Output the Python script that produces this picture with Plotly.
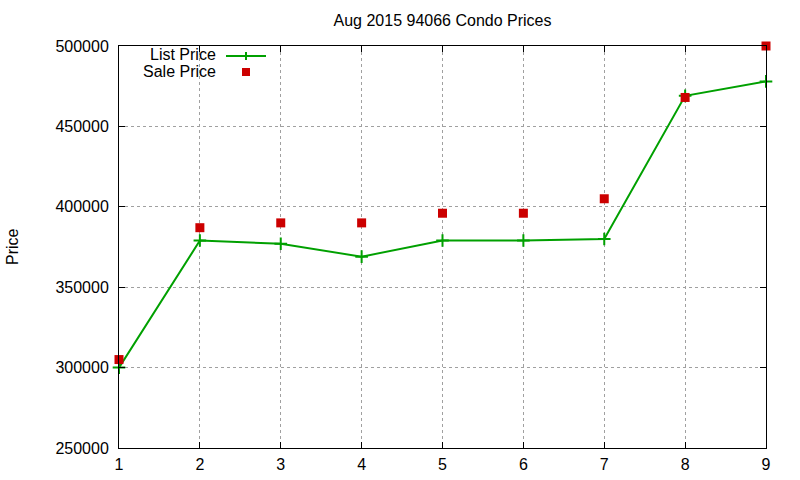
import plotly.graph_objects as go

months = [1, 2, 3, 4, 5, 6, 7, 8, 9]
list_price = [300000, 379000, 377000, 369000, 379000, 379000, 380000, 469000, 478000]
sale_price = [305000, 387000, 390000, 390000, 396000, 396000, 405000, 468000, 500000]
x_ticks = [1, 2, 3, 4, 5, 6, 7, 8, 9]
y_ticks = [250000, 300000, 350000, 400000, 450000, 500000]

GREEN = "#00a000"
RED = "#cc0000"
FONT = "Liberation Sans, Arial, sans-serif"

W, H = 800, 480
L, R, T, B = 119, 34, 46, 32

fig = go.Figure()
fig.add_trace(go.Scatter(
    x=months, y=list_price, mode="lines+markers", name="List Price",
    line=dict(color=GREEN, width=2),
    marker=dict(symbol="cross-thin", size=9, line=dict(color=GREEN, width=2)),
    cliponaxis=False,
))
fig.add_trace(go.Scatter(
    x=months, y=sale_price, mode="markers", name="Sale Price",
    marker=dict(symbol="square", size=9, color=RED),
    cliponaxis=False,
))

axis_common = dict(
    showline=True, linecolor="black", linewidth=1, mirror="ticks",
    ticks="inside", ticklen=6, tickcolor="black",
    showgrid=True, gridcolor="#a0a0a0", griddash="dot", gridwidth=1,
    zeroline=False, automargin=False,
    tickfont=dict(family=FONT, size=16, color="black"),
)

fig.update_xaxes(range=[1, 9], tickvals=x_ticks, ticktext=[str(v) for v in x_ticks],
                 ticklabelstandoff=2, **axis_common)
fig.update_yaxes(range=[250000, 500000], tickvals=y_ticks,
                 ticktext=[str(v) for v in y_ticks], ticklabelstandoff=6,
                 **axis_common)

def px_x(px):
    return (px - L) / (W - L - R)

def px_y(py):
    return 1 - (py - T) / (H - T - B)

# legend (gnuplot style: text then sample)
fig.add_annotation(x=px_x(218), y=px_y(55), xref="paper", yref="paper",
                   text="List Price", showarrow=False, xanchor="right", yanchor="middle",
                   font=dict(family=FONT, size=16, color="black"))
fig.add_annotation(x=px_x(218), y=px_y(71), xref="paper", yref="paper",
                   text="Sale Price", showarrow=False, xanchor="right", yanchor="middle",
                   font=dict(family=FONT, size=16, color="black"))
fig.add_shape(type="line", xref="paper", yref="paper",
              x0=px_x(226), x1=px_x(266), y0=px_y(56), y1=px_y(56),
              line=dict(color=GREEN, width=2))
fig.add_shape(type="line", xref="paper", yref="paper",
              x0=px_x(246), x1=px_x(246), y0=px_y(52), y1=px_y(60),
              line=dict(color=GREEN, width=2))
fig.add_shape(type="rect", xref="paper", yref="paper",
              x0=px_x(242), x1=px_x(250), y0=px_y(68), y1=px_y(76),
              line=dict(width=0), fillcolor=RED)

# y axis title
fig.add_annotation(x=px_x(12), y=px_y(247), xref="paper", yref="paper",
                   text="Price", showarrow=False, textangle=-90,
                   xanchor="center", yanchor="middle",
                   font=dict(family=FONT, size=16, color="black"))

fig.update_layout(
    width=W, height=H,
    margin=dict(l=L, r=R, t=T, b=B, autoexpand=False),
    paper_bgcolor="white", plot_bgcolor="white",
    showlegend=False,
    title=dict(text="Aug 2015 94066 Condo Prices", x=(L + (W - L - R) / 2) / W,
               xanchor="center", y=1 - 20 / H, yanchor="middle",
               font=dict(family=FONT, size=16, color="black")),
    font=dict(family=FONT),
)

fig.write_html("out.html")
